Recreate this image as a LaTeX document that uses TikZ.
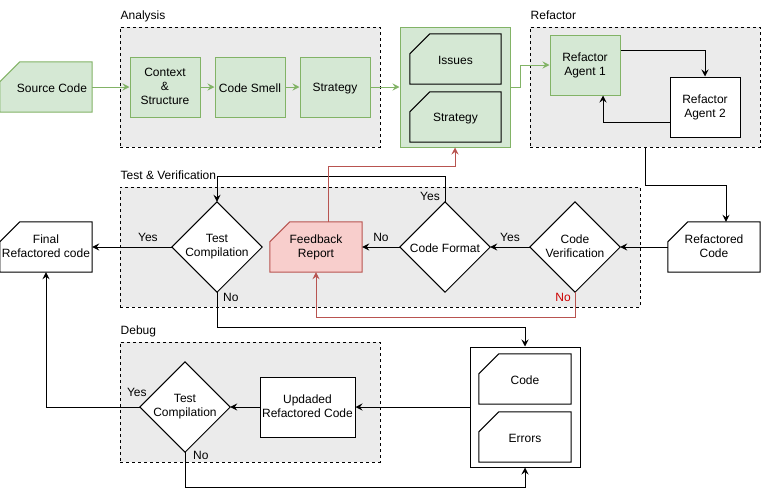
\documentclass[tikz,border=0pt]{standalone}
\usepackage{fontspec}
\setmainfont{Liberation Sans}
\usetikzlibrary{arrows.meta}
\pgfdeclarelayer{bg}\pgfdeclarelayer{mid}
\pgfsetlayers{bg,mid,main}
\definecolor{gfill}{HTML}{D5E8D4}
\definecolor{gline}{HTML}{82B366}
\definecolor{rfill}{HTML}{F8CECC}
\definecolor{rline}{HTML}{B85450}
\definecolor{cont}{HTML}{EBEBEB}
\definecolor{rtext}{HTML}{CC0000}
\newcommand\ls{\rule[-2pt]{0pt}{14pt}}
\newcommand\lbs{\rule[-2.8pt]{0pt}{12pt}}
\newcommand\cardpath[2]{\begin{pgfonlayer}{mid}\draw[#2] ([yshift=-20pt]#1.north west) -- ([xshift=20pt]#1.north west) -- (#1.north east) -- (#1.south east) -- (#1.south west) -- cycle;\end{pgfonlayer}}
\newcommand\diapath[1]{\begin{pgfonlayer}{mid}\draw[line width=1pt, fill=white] (#1.north) -- (#1.east) -- (#1.south) -- (#1.west) -- cycle;\end{pgfonlayer}}
\tikzset{
  txt/.style={font=\fontsize{12}{14}\selectfont, align=center, inner sep=0pt, execute at begin node=\ls, execute at end node=\ls},
  lbl/.style={font=\fontsize{12}{14}\selectfont, inner sep=2pt, execute at begin node=\lbs},
  gbox/.style={txt, draw=gline, fill=gfill, line width=1pt, minimum width=70pt, minimum height=60pt},
  wbox/.style={txt, draw, fill=white, line width=1pt, minimum width=70pt, minimum height=60pt},
  cardtxt/.style={txt, minimum width=92pt, minimum height=50pt},
  diatxt/.style={txt, minimum width=90pt, minimum height=90pt},
  container/.style={draw, fill=cont, line width=1pt, dash pattern=on 3pt off 3pt},
  clabel/.style={label={[anchor=base west, inner sep=0pt, xshift=1pt, yshift=7.5pt, font=\fontsize{12}{14}\selectfont]north west:#1}},
  arr/.style={line width=1pt, -{Stealth[length=7pt, width=7pt, inset=2.5pt]}},
  garr/.style={arr, draw=gline, color=gline},
  rarr/.style={arr, draw=rline, color=rline},
  gcard/.style={line width=1pt, draw=gline, fill=gfill},
  wcard/.style={line width=1pt, draw, fill=white},
  gicard/.style={line width=1pt, draw, fill=gfill},
  rcard/.style={line width=1pt, draw=rline, fill=rfill},
}
\begin{document}
\begin{tikzpicture}[x=1pt,y=-1pt]
\useasboundingbox (0,0) rectangle (761,496);
% containers
\begin{pgfonlayer}{bg}
\node[container, clabel=Analysis, minimum width=260pt, minimum height=120pt] (anc) at (250,87) {};
\node[container, clabel=Refactor, minimum width=230pt, minimum height=120pt] (rfc) at (645,87) {};
\node[container, clabel={Test \& Verification}, minimum width=520pt, minimum height=120pt] (tvc) at (380,247) {};
\node[container, clabel=Debug, minimum width=260pt, minimum height=120pt] (dbc) at (250,402) {};
\node[draw=gline, fill=gfill, line width=1pt, minimum width=110pt, minimum height=120pt] (isc) at (455,87) {};
\node[draw, fill=white, line width=1pt, minimum width=110pt, minimum height=120pt] (cec) at (525,407) {};
\end{pgfonlayer}
% analysis
\node[cardtxt] (src) at (46,87) {\hspace*{12pt}Source Code}; \cardpath{src}{gcard}
\node[gbox] (ctx) at (165,87) {Context\\\&\\Structure};
\node[gbox] (smell) at (250,87) {Code Smell};
\node[gbox] (strat) at (335,87) {Strategy};
\node[cardtxt, minimum width=91pt] (iss) at (455.5,59) {Issues}; \cardpath{iss}{gicard}
\node[cardtxt, minimum width=91pt] (ist) at (455.5,117) {Strategy}; \cardpath{ist}{gicard}
% refactor
\node[gbox] (ra1) at (585,65) {Refactor\\Agent 1};
\node[wbox] (ra2) at (705,107) {Refactor\\Agent 2};
% test & verification
\node[cardtxt] (rcode) at (714,247) {Refactored\\Code}; \cardpath{rcode}{wcard}
\node[diatxt] (cv) at (575,247) {Code\\Verification}; \diapath{cv}
\node[diatxt] (cf) at (445,247) {Code Format}; \diapath{cf}
\node[cardtxt] (fb) at (316,247) {Feedback\\Report}; \cardpath{fb}{rcard}
\node[diatxt] (tc1) at (217,247) {Test\\Compilation}; \diapath{tc1}
\node[cardtxt] (fin) at (46,247) {Final\\Refactored code}; \cardpath{fin}{wcard}
% debug
\node[cardtxt] (code) at (525,379) {Code}; \cardpath{code}{wcard}
\node[cardtxt] (err) at (525,437) {Errors}; \cardpath{err}{wcard}
\node[wbox, minimum width=95pt] (upd) at (307.5,407) {Updaded\\Refactored Code};
\node[diatxt] (tc2) at (185,407) {Test\\Compilation}; \diapath{tc2}
% connectors
\draw[garr] (src.east) -- (ctx.west);
\draw[garr] (ctx.east) -- (smell.west);
\draw[garr] (smell.east) -- (strat.west);
\draw[garr] (strat.east) -- (isc.west);
\draw[garr] (isc.east) -- ++(10,0) |- (ra1.west);
\draw[arr] ([yshift=15pt]ra1.east) -| (ra2.north);
\draw[arr] ([yshift=-15pt]ra2.west) -| ([xshift=18pt]ra1.south);
\draw[arr] (rfc.south) -- ++(0,38) -| ([xshift=12pt]rcode.north);
\draw[arr] (rcode.west) -- (cv.east);
\draw[arr] (cv.west) -- node[lbl, above, inner sep=2.5pt] {Yes} (cf.east);
\draw[arr] (cf.west) -- node[lbl, above, inner sep=2.5pt] {No} (fb.east);
\draw[arr] (cf.north) -- ++(0,-25) -| (tc1.north);
\node[lbl, anchor=east] (cfyes) at ([xshift=-3pt, yshift=5pt]cf.north) {Yes};
\draw[arr] (tc1.west) -- node[lbl, above, inner sep=2.5pt, pos=0.3] {Yes} (fin.east);
\draw[rarr] (cv.south) -- ++(0,25) -| (fb.south);
\node[lbl, anchor=east, text=rtext] (cvno) at ([xshift=-2pt, yshift=-6pt]cv.south) {No};
\draw[rarr] ([xshift=12pt]fb.north) -- ++(0,-55) -| (isc.south);
\draw[arr] (tc1.south) -- ++(0,35) -| (cec.north);
\node[lbl, anchor=west] (tc1no) at ([xshift=4pt, yshift=-6pt]tc1.south) {No};
\draw[arr] (cec.west) -- (upd.east);
\draw[arr] (upd.west) -- (tc2.east);
\draw[arr] (tc2.west) -| (fin.south);
\node[lbl] (tc2yes) at ([xshift=-3pt, yshift=14pt]tc2.west) {Yes};
\draw[arr] (tc2.south) -- ++(0,35) -| (cec.south);
\node[lbl, anchor=west] (tc2no) at ([xshift=6pt, yshift=-4pt]tc2.south) {No};
\end{tikzpicture}
\end{document}
